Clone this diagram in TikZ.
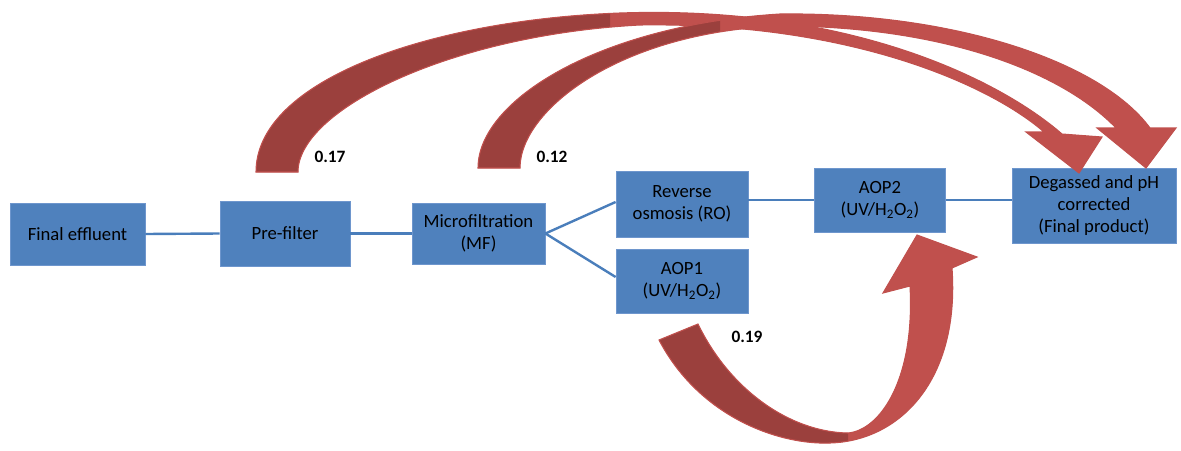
\documentclass[tikz,border=0pt]{standalone}
\usepackage{fontspec}
\setmainfont{Carlito}
\definecolor{boxblue}{RGB}{79,129,189}
\definecolor{boxedge}{RGB}{110,150,205}
\definecolor{lineblue}{RGB}{74,126,187}
\definecolor{lightred}{RGB}{192,80,77}
\definecolor{darkred}{RGB}{155,64,61}
\def\arrA{(256,172) .. controls (256,80) and (430,20) .. (620,13) .. controls (850,5) and (1000,80) .. (1062,134) -- (1102,137) -- (1079,173) -- (1026,132) -- (1044,132) .. controls (990,85) and (850,22) .. (640,25) .. controls (450,35) and (298,110) .. (298,172) -- cycle}
\def\arrB{(478,168) .. controls (478,100) and (600,25) .. (780,14) .. controls (950,12) and (1100,60) .. (1150,128) -- (1176,128) -- (1146,168) -- (1097,128) -- (1116,128) .. controls (1060,70) and (940,26) .. (780,26) .. controls (620,32) and (520,110) .. (520,168) -- cycle}
\def\arrC{(659,340) .. controls (700,418) and (780,445) .. (830,443) .. controls (900,441) and (960,380) .. (952,268) -- (977,257) -- (917,235) -- (883,293) -- (910,286) .. controls (915,380) and (880,430) .. (848,433) .. controls (790,432) and (730,390) .. (698,324) -- cycle}
\begin{document}
\begin{tikzpicture}[x=0.75pt,y=-0.75pt,
  box/.style={fill=boxblue, draw=boxedge, line width=0.6pt, align=center,
    font=\fontsize{14}{16.5}\selectfont, inner sep=2pt},
  link/.style={draw=lineblue, line width=1.8pt},
  lbl/.style={font=\fontsize{13}{14}\selectfont\bfseries},
  lightpart/.style={fill=lightred},
  darkpart/.style={fill=darkred},
  rim/.style={draw=lightred, line width=0.8pt}]
\useasboundingbox (0,0) rectangle (1181,450);

% boxes
\node[box, minimum width=101.25pt, minimum height=46.5pt] (fe) at (77.5,234) {Final effluent};
\node[box, minimum width=97.5pt, minimum height=48.75pt] (pf) at (285,233.5) {Pre-filter};
\node[box, minimum width=99.75pt, minimum height=45.75pt] (mf) at (478.5,233.5) {Microfiltration\\(MF)};
\node[box, minimum width=99pt, minimum height=49.5pt] (ro) at (682,204) {Reverse\\osmosis (RO)};
\node[box, minimum width=99pt, minimum height=48pt] (aop1) at (682,281) {AOP1\\(UV/H\textsubscript{2}O\textsubscript{2})};
\node[box, minimum width=98.25pt, minimum height=48pt] (aop2) at (880,200) {AOP2\\(UV/H\textsubscript{2}O\textsubscript{2})};
\node[box, minimum width=123pt, minimum height=56.25pt] (dg) at (1094,206) {Degassed and pH\\corrected\\(Final product)};

% connectors
\draw[link] (fe.east) -- (pf.west);
\draw[link] (pf.east) -- (mf.west);
\draw[link] (mf.east) -- ([yshift=1.5pt]ro.west);
\draw[link] (mf.east) -- ([yshift=3pt]aop1.west);
\draw[link] ([yshift=3pt]ro.east) -- (aop2.west);
\draw[link] (aop2.east) -- (aop2.east -| dg.west);

% curved arrows
\fill[lightpart] \arrA;
\begin{scope}\clip (0,0) rectangle (610,450); \fill[darkpart] \arrA; \end{scope}
\draw[rim] \arrA;
\fill[lightpart] \arrB;
\begin{scope}\clip (0,0) rectangle (720,450); \fill[darkpart] \arrB; \end{scope}
\draw[rim] \arrB;
\fill[lightpart] \arrC;
\begin{scope}\clip (0,0) rectangle (848,450); \fill[darkpart] \arrC; \end{scope}
\draw[rim] \arrC;

% labels
\node[lbl] (l17) at (330,157) {0.17};
\node[lbl] (l12) at (552,157) {0.12};
\node[lbl] (l19) at (747,337) {0.19};
\end{tikzpicture}
\end{document}
